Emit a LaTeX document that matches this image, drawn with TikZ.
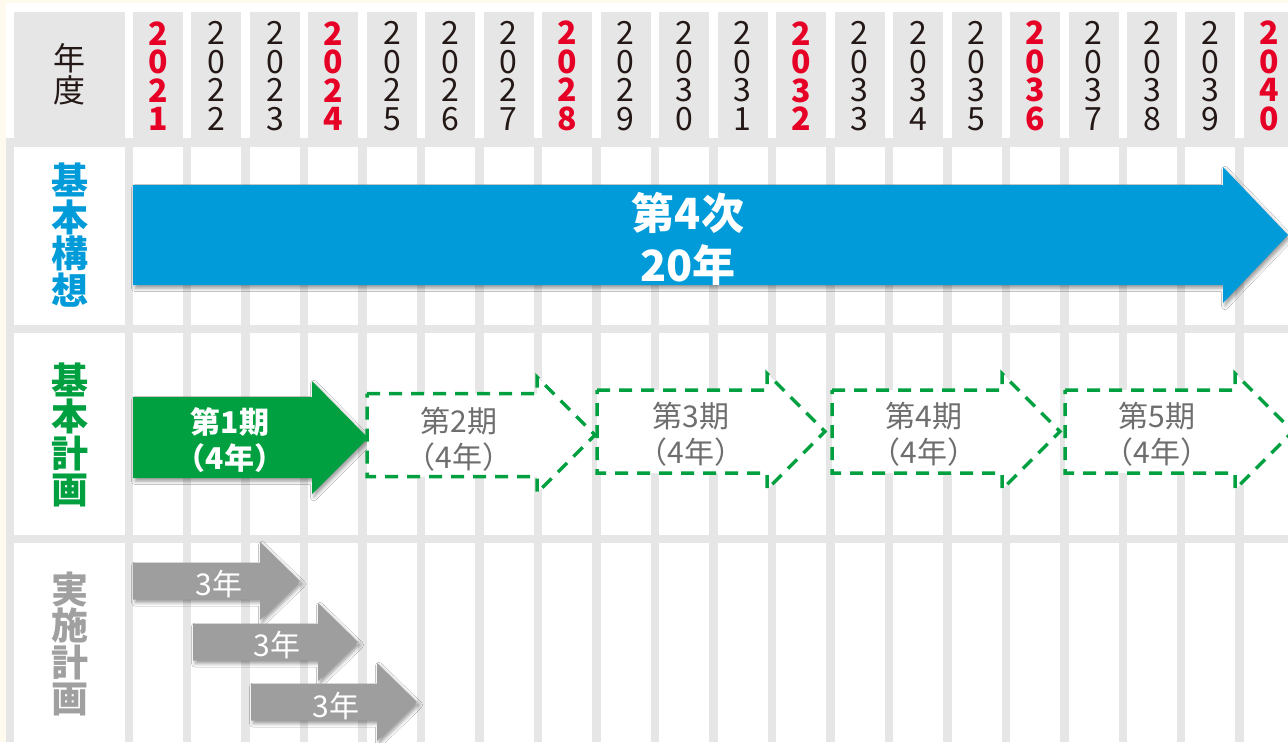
\documentclass[tikz,border=0pt]{standalone}
\usepackage{fontspec}
\setmainfont{Noto Sans CJK JP}
\usetikzlibrary{shadows.blur}
\definecolor{cream}{HTML}{FFFAEE}
\definecolor{gridgray}{HTML}{E6E6E6}
\definecolor{kblue}{HTML}{009BD8}
\definecolor{kgreen}{HTML}{00A040}
\definecolor{kgray}{HTML}{9E9E9E}
\definecolor{kred}{HTML}{E60026}
\definecolor{kblack}{HTML}{231815}
\definecolor{ktext}{HTML}{6E6E6E}
\definecolor{klabelgray}{HTML}{A0A0A0}
\tikzset{
  headcell/.style={fill=gridgray},
  bodycell/.style={fill=white},
  arrowshadow/.style={blur shadow={shadow xshift=2pt,shadow yshift=-3pt,shadow blur radius=3.5pt,shadow opacity=40}},
  bluearrow/.style={fill=kblue,arrowshadow},
  greenarrow/.style={fill=kgreen,arrowshadow},
  grayarrow/.style={fill=kgray,arrowshadow},
  dasharrow/.style={draw=kgreen,fill=white,line width=3.5pt,dash pattern=on 13pt off 9pt,line join=miter},
  txt/.style={inner sep=0pt,outer sep=0pt,align=center},
  yearblack/.style={txt,text=kblack,font=\fontsize{32}{28.5}\selectfont},
  yearred/.style={txt,text=kred,font=\fontsize{32}{28.5}\selectfont\bfseries},
  rowlabel/.style={txt,font=\fontsize{37}{36.5}\selectfont\bfseries},
  bigtxt/.style={txt,text=white,font=\fontsize{43}{43}\selectfont\bfseries},
  greentxt/.style={txt,text=white,font=\fontsize{30}{30}\selectfont\bfseries},
  dashtxt/.style={txt,text=ktext,font=\fontsize{30}{30}\selectfont},
  graytxt/.style={txt,text=white,font=\fontsize{30}{30}\selectfont},
}
\begin{document}
\begin{tikzpicture}[x=1pt,y=-1pt]
\useasboundingbox (0,0) rectangle (1288,742);
% background
\fill[white] (0,0) rectangle (1288,742);
\fill[cream] (0,0) rectangle (1288,3);
\fill[cream] (0,0) rectangle (6,742);
\fill[gridgray] (6,138) rectangle (1288,742);
% label column
\fill[headcell] (14,12) rectangle (125,138);
\foreach \ya/\yb in {147/325,333/535,543/750}
  \fill[bodycell] (14,\ya) rectangle (125,\yb);
% year columns
\foreach \i in {0,...,19} {
  \pgfmathsetmacro\xa{133+\i*58.47}
  \fill[headcell] (\xa,12) rectangle ++(50,126);
  \foreach \ya/\yb in {147/325,333/535,543/750}
    \fill[bodycell] (\xa,\ya) rectangle (\xa+50,\yb);
}
% header labels
\node[txt,text=kblack,font=\fontsize{32}{32}\selectfont] (nendo) at (69.5,74) {年\\度};
\foreach \i/\d/\e/\s in {0/2/1/yearred,1/2/2/yearblack,2/2/3/yearblack,3/2/4/yearred,
  4/2/5/yearblack,5/2/6/yearblack,6/2/7/yearblack,7/2/8/yearred,8/2/9/yearblack,
  9/3/0/yearblack,10/3/1/yearblack,11/3/2/yearred,12/3/3/yearblack,13/3/4/yearblack,
  14/3/5/yearblack,15/3/6/yearred,16/3/7/yearblack,17/3/8/yearblack,18/3/9/yearblack,
  19/4/0/yearred} {
  \pgfmathsetmacro\xc{158+\i*58.47}
  \node[\s] (yr\i) at (\xc,76) {2\\0\\\d\\\e};
}
% row labels
\node[rowlabel,text=kblue] (kihonkoso) at (70,235) {基\\本\\構\\想};
\node[rowlabel,text=kgreen] (kihonkeikaku) at (70,435) {基\\本\\計\\画};
\node[rowlabel,text=klabelgray] (jisshi) at (70,644) {実\\施\\計\\画};
% blue arrow
\path[bluearrow] (133,185) -- (1223,185) -- (1223,167) -- (1288,235) -- (1223,303) -- (1223,285) -- (133,285) -- cycle;
\node[bigtxt] (b1) at (688,213) {第4次};
\node[bigtxt] (b2) at (688,265) {20年};
% green arrow
\path[greenarrow] (133,397) -- (312,397) -- (312,381) -- (368,438) -- (312,494) -- (312,478) -- (133,478) -- cycle;
\node[greentxt] (g1a) at (230,422) {第1期};
\node[greentxt] (g1b) at (230,458) {（4年）};
% dashed arrows
\path[dasharrow] (367,393.5) -- (537,393.5) -- (537,377) -- (595,435) -- (537,493) -- (537,476.5) -- (367,476.5) -- cycle;
\node[dashtxt] (d2a) at (459,421) {第2期};
\node[dashtxt] (d2b) at (459,457) {（4年）};
\path[dasharrow] (597,390) -- (767,390) -- (767,373.5) -- (825,431.5) -- (767,489.5) -- (767,473) -- (597,473) -- cycle;
\node[dashtxt] (d3a) at (691,416) {第3期};
\node[dashtxt] (d3b) at (691,452) {（4年）};
\path[dasharrow] (832,390) -- (1002,390) -- (1002,373.5) -- (1060,431.5) -- (1002,489.5) -- (1002,473) -- (832,473) -- cycle;
\node[dashtxt] (d4a) at (924,416) {第4期};
\node[dashtxt] (d4b) at (924,452) {（4年）};
\path[dasharrow] (1065,390) -- (1235,390) -- (1235,373.5) -- (1293,431.5) -- (1235,489.5) -- (1235,473) -- (1065,473) -- cycle;
\node[dashtxt] (d5a) at (1157,416) {第5期};
\node[dashtxt] (d5b) at (1157,452) {（4年）};
% gray arrows
\path[grayarrow] (133,562.5) -- (260,562.5) -- (260,542) -- (300,581) -- (260,620) -- (260,599.5) -- (133,599.5) -- cycle;
\node[graytxt] (j1) at (219,584) {3年};
\path[grayarrow] (193,623.5) -- (318,623.5) -- (318,603) -- (358,642) -- (318,681) -- (318,660.5) -- (193,660.5) -- cycle;
\node[graytxt] (j2) at (277,645) {3年};
\path[grayarrow] (251,683.5) -- (377,683.5) -- (377,663) -- (417,702) -- (377,741) -- (377,720.5) -- (251,720.5) -- cycle;
\node[graytxt] (j3) at (336,706) {3年};
\end{tikzpicture}
\end{document}
